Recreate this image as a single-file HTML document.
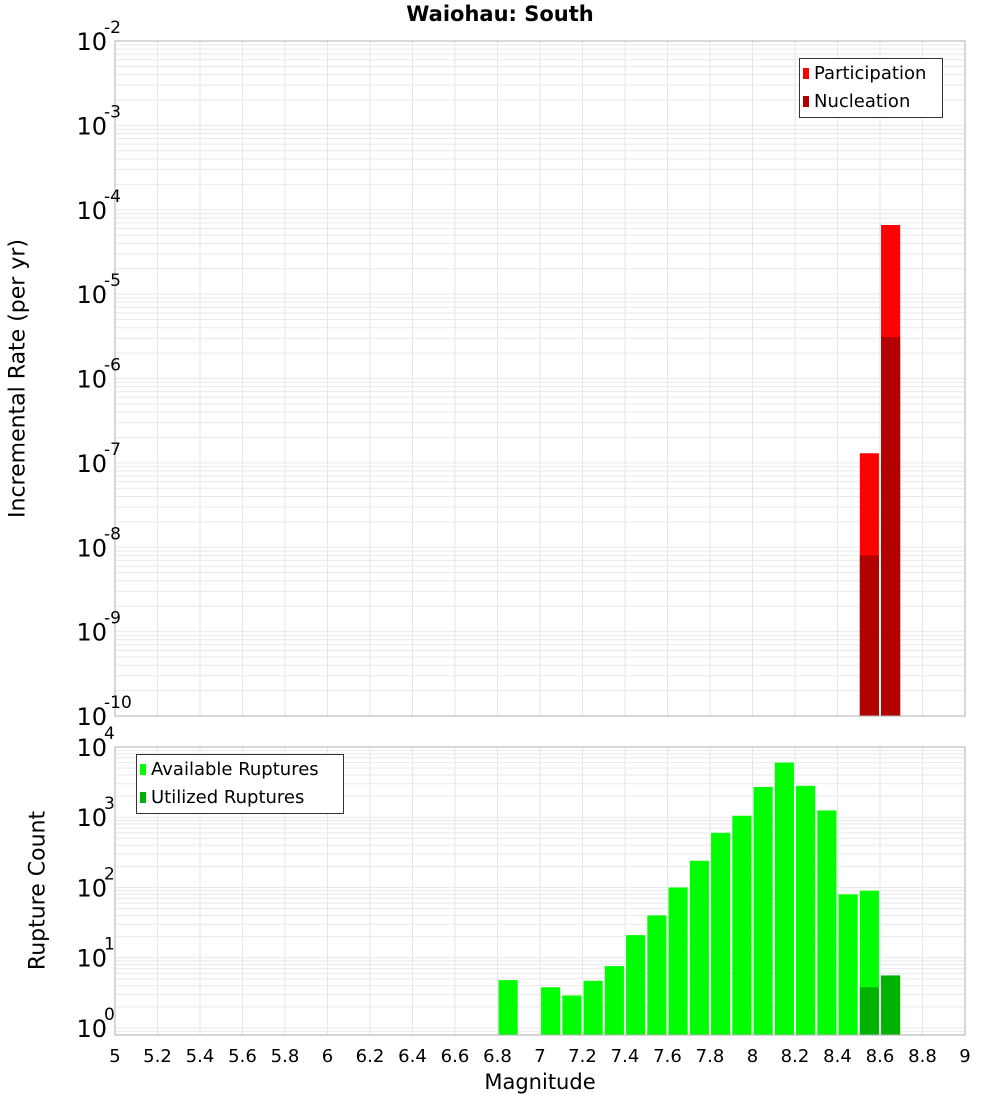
<!DOCTYPE html>
<html><head><meta charset="utf-8"><style>
html,body{margin:0;padding:0;background:#fff;}
svg{display:block;font-family:"DejaVu Sans","Liberation Sans",sans-serif;}
</style></head><body>
<svg id="chart" width="1000" height="1100" viewBox="0 0 1000 1100"></svg>
<script>
const xTicks=[5,5.2,5.4,5.6,5.8,6,6.2,6.4,6.6,6.8,7,7.2,7.4,7.6,7.8,8,8.2,8.4,8.6,8.8,9];
const topMags=[8.55,8.65];
const participation=[1.3e-7,6.6e-5];
const nucleation=[8e-9,3.1e-6];
const topExps=[-2,-3,-4,-5,-6,-7,-8,-9,-10];
const botMags=[6.85,7.05,7.15,7.25,7.35,7.45,7.55,7.65,7.75,7.85,7.95,8.05,8.15,8.25,8.35,8.45,8.55];
const available=[4.8,3.8,2.9,4.7,7.6,21,40,100,240,600,1050,2700,6000,2800,1250,80,90];
const utilMags=[8.55,8.65];
const utilized=[3.8,5.6];
const botExps=[4,3,2,1,0];

const NS="http://www.w3.org/2000/svg";
const svg=document.getElementById('chart');
function el(t,a,p){const e=document.createElementNS(NS,t);for(const k in a)e.setAttribute(k,a[k]);(p||svg).appendChild(e);return e;}
const X0=115,X1=965;
const xs=m=>X0+(m-5)/4*(X1-X0);
const T0=41,T1=716;
const ysTop=v=>T0+(-2-Math.log10(v))/8*(T1-T0);
const B0=747,B1=1035,BMIN=-0.1,BMAX=4;
const ysBot=v=>B0+(BMAX-Math.log10(v))/(BMAX-BMIN)*(B1-B0);
const BW=0.09;

function grid(y0,y1,lo,hi,ys){
  const g=el('g',{});
  
  
  xTicks.forEach(t=>el('line',{x1:xs(t),x2:xs(t),y1:y0,y2:y1,stroke:'#e6e6e6','stroke-width':1},g));
  for(let e=Math.floor(lo);e<hi;e++)for(let k=1;k<10;k++){const v=k*Math.pow(10,e);const y=ys(v);if(y<y0||y>y1)continue;el('line',{x1:X0,x2:X1,y1:y,y2:y,stroke:'#e9e9e9','stroke-width':1},g);}
}
grid(T0,T1,-10,-2,ysTop);
grid(B0,B1,-1,4,ysBot);

// top bars
topMags.forEach((m,i)=>{
  const x=xs(m-BW/2),w=xs(m+BW/2)-x;
  const r=el('rect',{x:x,y:ysTop(participation[i]),width:w,height:T1-ysTop(participation[i]),fill:'#ff0000'});
  
  
  const n=el('rect',{x:x,y:ysTop(nucleation[i]),width:w,height:T1-ysTop(nucleation[i]),fill:'#b20000'});
  
  
});
botMags.forEach((m,i)=>{
  const x=xs(m-BW/2),w=xs(m+BW/2)-x;
  const r=el('rect',{x:x,y:ysBot(available[i]),width:w,height:B1-ysBot(available[i]),fill:'#00ff00'});
  
  
});
utilMags.forEach((m,i)=>{
  const x=xs(m-BW/2),w=xs(m+BW/2)-x;
  const r=el('rect',{x:x,y:ysBot(utilized[i]),width:w,height:B1-ysBot(utilized[i]),fill:'#00b200'});
  
  
});
el('rect',{x:X0,y:T0,width:X1-X0,height:T1-T0,fill:'none',stroke:'#b0b0b0'});
el('rect',{x:X0,y:B0,width:X1-X0,height:B1-B0,fill:'none',stroke:'#b0b0b0'});

function ylab(exp,y){
  const t=el('text',{x:107,y:y+9,'text-anchor':'end','font-size':24,fill:'#000'});
  
  
  t.textContent='10';
  const s=el('text',{x:104,y:y-8,'font-size':17,fill:'#000'});
  
  
  s.textContent=String(exp);
}
topExps.forEach(e=>ylab(e,ysTop(Math.pow(10,e))));
botExps.forEach(e=>ylab(e,ysBot(Math.pow(10,e))));
xTicks.forEach(t=>{
  const tx=el('text',{x:xs(t),y:1062,'text-anchor':'middle','font-size':18,fill:'#000'});
  
  
  tx.textContent=String(t);
});
</script>
<svg width="0" height="0"></svg>
<div style="position:absolute;left:0;top:0;width:1000px;height:1100px;pointer-events:none;font-family:'DejaVu Sans','Liberation Sans',sans-serif;">
  <div style="position:absolute;left:0;width:1000px;top:2px;text-align:center;font-weight:bold;font-size:21px;">Waiohau: South</div>
  <div style="position:absolute;left:440px;width:200px;top:1070px;text-align:center;font-size:21px;">Magnitude</div>
  <div style="position:absolute;left:-182px;top:366px;width:400px;text-align:center;font-size:22px;transform:rotate(-90deg);">Incremental Rate (per yr)</div>
  <div style="position:absolute;left:-162px;top:878px;width:400px;text-align:center;font-size:22px;transform:rotate(-90deg);">Rupture Count</div>
  <div style="position:absolute;left:799px;top:58px;width:142px;height:58px;border:1px solid #333;background:#fff;font-size:18px;line-height:28px;">
    <div style="position:absolute;left:3px;top:1px;white-space:nowrap;"><span style="display:inline-block;width:6px;height:11px;background:#f00;margin-right:5px;"></span>Participation</div>
    <div style="position:absolute;left:3px;top:29px;white-space:nowrap;"><span style="display:inline-block;width:6px;height:11px;background:#b20000;margin-right:5px;"></span>Nucleation</div>
  </div>
  <div style="position:absolute;left:136px;top:754px;width:206px;height:58px;border:1px solid #333;background:#fff;font-size:18px;line-height:28px;">
    <div style="position:absolute;left:3px;top:1px;white-space:nowrap;"><span style="display:inline-block;width:6px;height:11px;background:#0f0;margin-right:5px;"></span>Available Ruptures</div>
    <div style="position:absolute;left:3px;top:29px;white-space:nowrap;"><span style="display:inline-block;width:6px;height:11px;background:#00b200;margin-right:5px;"></span>Utilized Ruptures</div>
  </div>
</div>
</body></html>
